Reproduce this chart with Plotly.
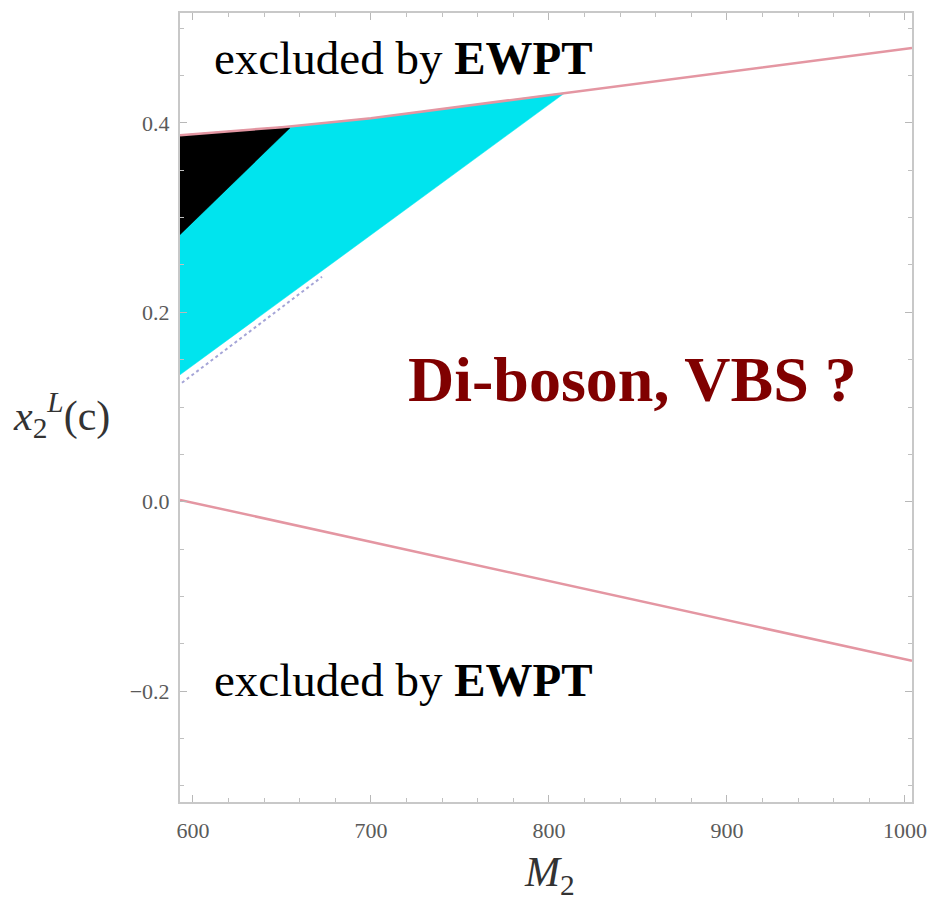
import plotly.graph_objects as go

# ---- data ----
x_range = [592.7, 1004.0]
y_range = [-0.317, 0.516]

x_tick_vals = [600, 700, 800, 900, 1000]
x_tick_text = ["600", "700", "800", "900", "1000"]
y_tick_vals = [-0.2, 0.0, 0.2, 0.4]
y_tick_text = ["\u22120.2", "0.0", "0.2", "0.4"]

# upper EWPT boundary
upper_m2 = [592.7, 650.0, 700.0, 800.0, 900.0, 1004.0]
upper_x2 = [0.387, 0.3955, 0.405, 0.4295, 0.454, 0.479]

# lower EWPT boundary
lower_m2 = [592.7, 1004.0]
lower_x2 = [0.002, -0.168]

# cyan allowed region: lower edge (left -> tip), then along upper boundary back
cyan_lower_m2 = [592.7, 809.0]
cyan_lower_x2 = [0.134, 0.4317]
cyan_upper_m2 = [800.0, 700.0, 650.0, 592.7]
cyan_upper_x2 = [0.4295, 0.405, 0.3955, 0.387]

# black region
black_m2 = [592.7, 654.5, 650.0, 592.7]
black_x2 = [0.282, 0.3947, 0.3955, 0.387]

# lavender dotted boundary
lav_m2 = [593.8, 672.5]
lav_x2 = [0.1256, 0.2375]

serif = "Liberation Serif, Times New Roman, serif"

fig = go.Figure()

fig.add_trace(go.Scatter(
    x=cyan_lower_m2 + cyan_upper_m2,
    y=cyan_lower_x2 + cyan_upper_x2,
    fill="toself", fillcolor="#00E4EE", mode="lines",
    line=dict(color="#00E4EE", width=0.5), hoverinfo="skip", showlegend=False))

fig.add_trace(go.Scatter(
    x=black_m2, y=black_x2, fill="toself", fillcolor="black", mode="lines",
    line=dict(color="black", width=0.5), hoverinfo="skip", showlegend=False))

fig.add_trace(go.Scatter(
    x=lav_m2, y=lav_x2, mode="lines",
    line=dict(color="rgb(165,165,215)", width=2, dash="dot"),
    hoverinfo="skip", showlegend=False))

for mx, my in [(upper_m2, upper_x2), (lower_m2, lower_x2)]:
    fig.add_trace(go.Scatter(
        x=mx, y=my, mode="lines",
        line=dict(color="rgb(228,150,162)", width=2.5),
        hoverinfo="skip", showlegend=False))

axis_common = dict(
    showgrid=False, zeroline=False, showline=True, automargin=False,
    linecolor="#c8c8c8", linewidth=2, mirror="allticks",
    ticks="inside", ticklen=7, tickwidth=1, tickcolor="#b8b8b8",
    tickfont=dict(family=serif, size=22, color="#5a5a5a"),
)

fig.update_xaxes(
    range=x_range, tickvals=x_tick_vals, ticktext=x_tick_text,
    minor=dict(ticks="inside", dtick=20, tick0=600, ticklen=4, tickcolor="#c0c0c0"),
    ticklabelstandoff=8,
    **axis_common)
fig.update_yaxes(
    range=y_range, tickvals=y_tick_vals, ticktext=y_tick_text,
    minor=dict(ticks="inside", dtick=0.05, tick0=0, ticklen=4, tickcolor="#c0c0c0"),
    ticklabelstandoff=4,
    **axis_common)

annotations = [
    dict(text="excluded by <b>EWPT</b>", x=0.044, y=0.943, xanchor="left", yanchor="middle",
         font=dict(family=serif, size=47, color="black")),
    dict(text="excluded by <b>EWPT</b>", x=0.044, y=0.155, xanchor="left", yanchor="middle",
         font=dict(family=serif, size=47, color="black")),
    dict(text="<b>Di-boson, VBS ?</b>", x=0.6175, y=0.536, xanchor="center", yanchor="middle",
         font=dict(family=serif, size=64, color="#800000")),
    dict(text="<i>x</i><sub>2</sub><sup><i>L</i></sup>(c)", x=-0.231, y=0.491,
         xanchor="left", yanchor="middle",
         font=dict(family=serif, size=42, color="#333333")),
    dict(text="<i>M</i><sub>2</sub>", x=0.505, y=-0.092, xanchor="center", yanchor="middle",
         font=dict(family=serif, size=42, color="#333333")),
]
for a in annotations:
    a.update(xref="paper", yref="paper", showarrow=False)

fig.update_layout(
    width=927, height=902,
    margin=dict(l=180, r=15, t=13, b=100),
    paper_bgcolor="white", plot_bgcolor="white",
    annotations=annotations,
    showlegend=False,
)

fig.write_html("out.html", config={"displayModeBar": False},
               post_script="document.body.style.margin='0';")
